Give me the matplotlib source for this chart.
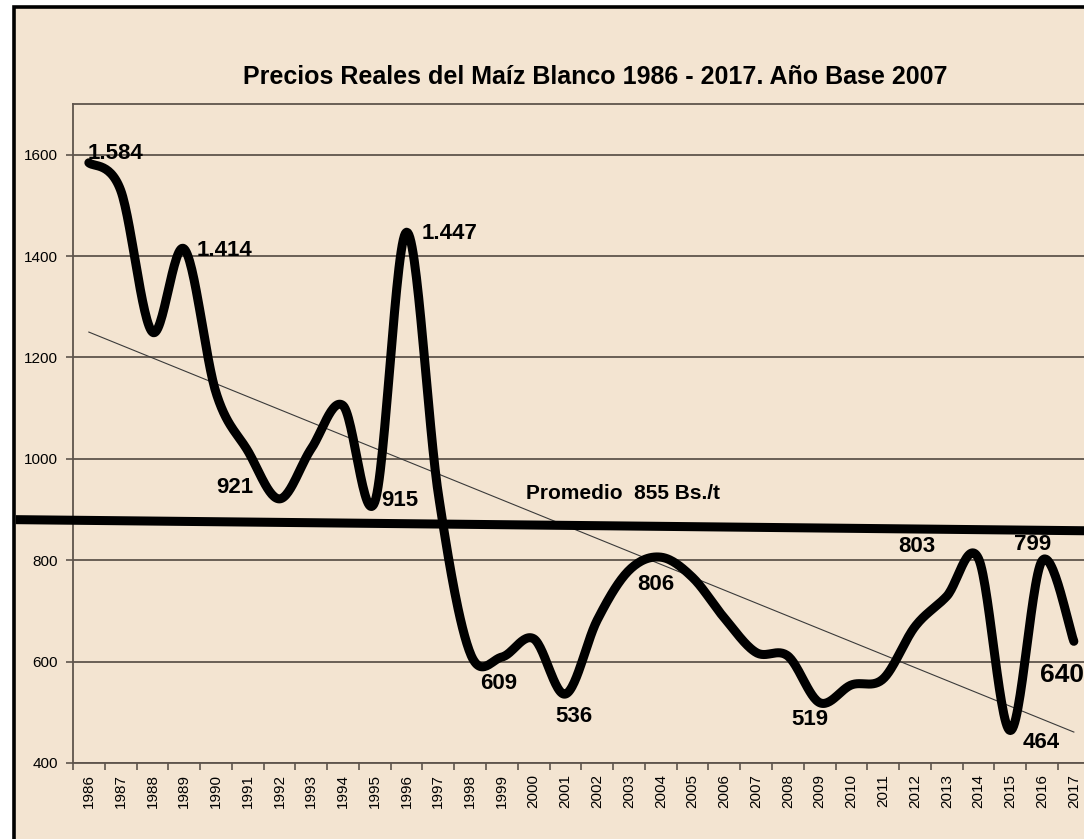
import numpy as np
import matplotlib.pyplot as plt
from matplotlib.patches import Rectangle

# datos
years = list(range(1986, 2018))
precios = [1584, 1530, 1250, 1414, 1131, 1016, 921, 1020, 1105, 915,
           1447, 930, 617, 609, 645, 536, 682, 780, 806, 766,
           686, 618, 611, 519, 554, 566, 669, 729, 803, 464,
           799, 640]
tendencia = [1250, 461]        # linea de tendencia (1986, 2017)
promedio_linea = [880, 858]    # linea gruesa del promedio
etiquetas = ["1.584", "1.414", "921", "915", "1.447", "609", "536",
             "806", "519", "803", "799", "464", "640"]
etiq_x = [1985.97, 1989.4, 1990.6, 1995.78, 1996.47, 1998.9, 2001.28,
          2003.83, 2008.7, 2012.07, 2015.7, 2015.97, 2015.92]
etiq_y = [1602, 1410, 943, 917, 1445, 556, 491, 753, 485, 828, 830, 440, 574]

plt.rcParams['font.family'] = ['Liberation Sans', 'DejaVu Sans']
BG = '#f3e4d1'
GRID = '#5e544c'


def suavizar(x, y, n=30):
    # curva suavizada tipo Excel (Bezier cubica)
    x = np.asarray(x, float)
    y = np.asarray(y, float)
    px = np.concatenate([[x[0]], x, [x[-1]]])
    py = np.concatenate([[y[0]], y, [y[-1]]])
    t = np.linspace(0, 1, n)
    xs, ys = [], []
    for i in range(1, len(px) - 2):
        p0 = np.array([px[i], py[i]])
        p3 = np.array([px[i + 1], py[i + 1]])
        c1 = p0 + (np.array([px[i + 1], py[i + 1]]) - np.array([px[i - 1], py[i - 1]])) / 6
        c2 = p3 - (np.array([px[i + 2], py[i + 2]]) - np.array([px[i], py[i]])) / 6
        b = ((1 - t) ** 3)[:, None] * p0 + (3 * (1 - t) ** 2 * t)[:, None] * c1 \
            + (3 * (1 - t) * t ** 2)[:, None] * c2 + (t ** 3)[:, None] * p3
        xs.append(b[:, 0])
        ys.append(b[:, 1])
    return np.concatenate(xs), np.concatenate(ys)


fig = plt.figure(figsize=(10.84, 8.39), dpi=100)
fig.patch.set_facecolor('white')
fig.patches.append(Rectangle((0.0125, -0.1), 1.2, 1.0915, transform=fig.transFigure,
                             facecolor=BG, edgecolor='black', linewidth=2.6,
                             zorder=-10))

ax = fig.add_axes([0.0673, 0.0906, 0.938, 0.7855])
ax.set_facecolor(BG)
ax.set_xlim(1985.5, 2017.5)
ax.set_ylim(400, 1700)

ax.set_yticks(range(400, 1601, 200))
ax.set_xticks(years)
ax.set_xticklabels([str(a) for a in years], rotation=90, fontsize=11)
ax.set_xticks(np.arange(1985.5, 2018, 1), minor=True)
ax.tick_params(axis='x', which='major', length=0, pad=8)
ax.tick_params(axis='x', which='minor', length=5, color=GRID, width=1.2)
ax.tick_params(axis='y', length=5, color=GRID, width=1.2, labelsize=11, pad=6)
ax.grid(axis='y', color=GRID, linewidth=1.3)
ax.set_axisbelow(True)
for s in ['left', 'bottom', 'top']:
    ax.spines[s].set_color(GRID)
    ax.spines[s].set_linewidth(1.3)
ax.spines['right'].set_visible(False)

# tendencia
ax.plot([years[0], years[-1]], tendencia, color='#3a3a3a', linewidth=0.8, zorder=3)

# promedio (se extiende hasta el borde)
ax.plot([1983.7, 2017.5], promedio_linea, color='black', linewidth=6.5,
        solid_capstyle='butt', clip_on=False, zorder=4)
ax.text(2002.8, 931, "Promedio  855 Bs./t", fontsize=15, fontweight='bold',
        ha='center', va='center', zorder=6)

sx, sy = suavizar(years, precios)
ax.plot(sx, sy, color='black', linewidth=6.5, solid_capstyle='round', zorder=5)

for txt, x, y in zip(etiquetas, etiq_x, etiq_y):
    size = 19 if txt == "640" else 16
    ha = 'left' if txt in ("1.584", "1.414", "1.447", "640") else 'center'
    ax.text(x, y, txt, fontsize=size, fontweight='bold', ha=ha, va='center',
            zorder=6, clip_on=False)

fig.text(0.549, 0.908, "Precios Reales del Maíz Blanco 1986 - 2017. Año Base 2007",
         fontsize=18, fontweight='bold', ha='center', va='center')

fig.savefig('out.png', dpi=100, facecolor=fig.get_facecolor())
